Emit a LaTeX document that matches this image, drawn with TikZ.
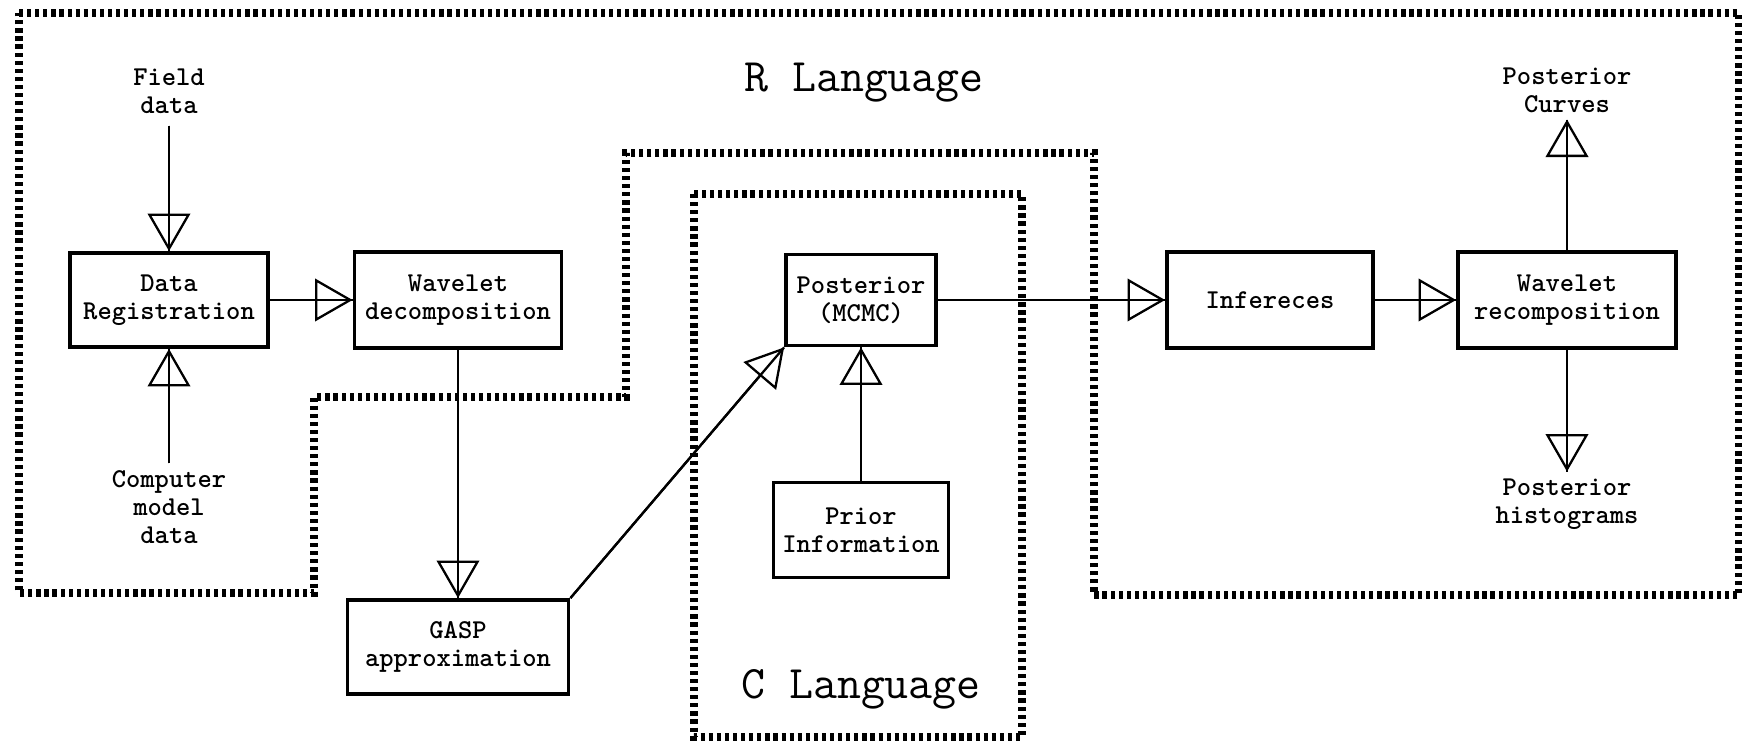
\documentclass[tikz,border=0pt]{standalone}
\usepackage{fontspec}
\newfontfamily\boxfont{lmmonolt10-bold}[Extension=.otf]
\usetikzlibrary{arrows.meta}

\begin{document}
\begin{tikzpicture}[>={Triangle[open,length=0.75cm,width=0.85cm]},line width=1.3pt,
 b/.style={draw,line width=2.2pt,align=center,inner sep=0pt,font=\boxfont\fontsize{15.5}{16}\selectfont},
 lab/.style={align=center,font=\boxfont\fontsize{15.5}{16}\selectfont},
 lang/.style={font=\ttfamily\fontsize{26.5}{28}\selectfont},
 reg/.style={line width=4.5pt,dash pattern=on 2.4pt off 2.2pt},
 flow/.style={->,postaction={draw,-}}]
\useasboundingbox (0,0) rectangle (34.84,14.84);
% language regions
\draw[reg] (0.38,14.58) -- (34.78,14.58) -- (34.78,2.94) -- (21.88,2.94) -- (21.88,11.78) -- (12.52,11.78)
 -- (12.52,6.90) -- (6.28,6.90) -- (6.28,2.98) -- (0.38,2.98) -- cycle;
\draw[reg] (13.88,10.96) rectangle (20.44,0.10);
\node[lang] (rlang) at (17.28,13.18) {R Language};
\node[lang] (clang) at (17.22,1.06) {C Language};
% blocks
\node[b,minimum width=3.96cm,minimum height=1.88cm] (datareg) at (3.38,8.84) {Data\\Registration};
\node[b,minimum width=4.14cm,minimum height=1.92cm] (wdec) at (9.16,8.84) {Wavelet\\decomposition};
\node[b,minimum width=4.42cm,minimum height=1.88cm] (gasp) at (9.16,1.90) {GASP\\approximation};
\node[b,minimum width=3.0cm,minimum height=1.82cm] (post) at (17.22,8.84) {Posterior\\(MCMC)};
\node[b,minimum width=3.5cm,minimum height=1.90cm] (prior) at (17.22,4.24) {Prior\\Information};
\node[b,minimum width=4.12cm,minimum height=1.92cm] (infer) at (25.40,8.84) {Infereces};
\node[b,minimum width=4.36cm,minimum height=1.92cm] (wrec) at (31.34,8.84) {Wavelet\\recomposition};
% inputs and outputs
\node[lab] (field) at (3.38,13.02) {Field\\data};
\node[lab] (cmd) at (3.38,4.70) {Computer\\model\\data};
\node[lab] (pcurv) at (31.34,13.04) {Posterior\\Curves};
\node[lab] (phist) at (31.34,4.76) {Posterior\\histograms};
% flow
\draw[flow,shorten <=3pt] (field) -- (datareg);
\draw[flow] (cmd) -- (datareg);
\draw[flow] (datareg) -- (wdec);
\draw[flow] (wdec) -- (gasp);
\draw[flow] (gasp.north east) -- (post.south west);
\draw[flow] (prior) -- (post);
\draw[flow] (post) -- (infer);
\draw[flow] (infer) -- (wrec);
\draw[flow] (wrec) -- (pcurv);
\draw[flow] (wrec) -- (phist);
\end{tikzpicture}
\end{document}
